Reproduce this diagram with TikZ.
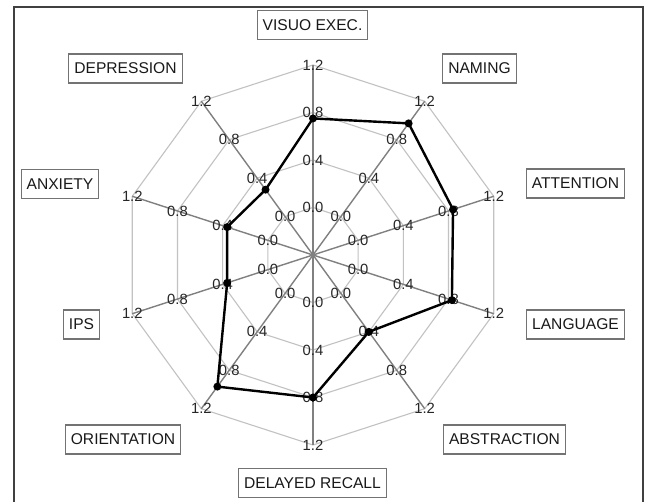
\documentclass[tikz,border=0pt]{standalone}
\usepackage{fontspec}
\setmainfont{Liberation Sans}
\begin{document}
\begin{tikzpicture}[x=1pt,y=1pt,
  lab/.style={draw=black!55, line width=1.2pt, font=\fontsize{15.6}{18}\selectfont,
    text=black!90, inner xsep=5.5pt, inner ysep=0pt, minimum height=29pt},
  tick/.style={font=\fontsize{14.8}{16}\selectfont, text=black!85, inner sep=0pt},
  spoke/.style={draw=black!50, line width=1.4pt},
  ring/.style={draw=black!24, line width=1.1pt, line join=miter},
  dataline/.style={draw=black, line width=2.4pt, line join=round},
  dot/.style={circle, fill=black, inner sep=0pt, minimum size=8pt}]
\useasboundingbox (0,0) rectangle (648,502);
\clip (0,0) rectangle (648,502);
\fill[white] (0,0) rectangle (648,502);
\draw[line width=1.7pt, black!75] (14,495) rectangle (643,-10);

\coordinate (c) at (313,247);
% axis level coordinates
\foreach \k in {0,...,9}{
  \foreach \l/\r in {0/47.5,1/95,2/142.5,3/190}{
    \path (c) ++({90-36*\k}:\r) coordinate (a\k-\l);
  }
}
% rings
\foreach \l in {0,...,3}{
  \draw[ring] (a0-\l) -- (a1-\l) -- (a2-\l) -- (a3-\l) -- (a4-\l) -- (a5-\l)
    -- (a6-\l) -- (a7-\l) -- (a8-\l) -- (a9-\l) -- cycle;
}
% spokes
\foreach \k in {0,...,9}{ \draw[spoke] (c) -- (a\k-3); }
% tick labels
\foreach \k in {0,...,9}{
  \foreach \l/\t in {0/0.0,1/0.4,2/0.8,3/1.2}{
    \node[tick] (t\k-\l) at (a\k-\l) {\t};
  }
}
% data points
\foreach \k/\v in {0/0.75,1/0.97,2/0.84,3/0.83,4/0.40,5/0.80,6/0.97,7/0.36,8/0.36,9/0.28}{
  \path (c) ++({90-36*\k}:{118.75*(\v+0.4)}) coordinate (p\k);
}
\draw[dataline] (p0) -- (p1) -- (p2) -- (p3) -- (p4) -- (p5) -- (p6) -- (p7) -- (p8) -- (p9) -- cycle;
\foreach \k in {0,...,9}{ \node[dot] (d\k) at (p\k) {}; }

% axis titles
\node[lab] (visuo) at (312.5,477) {VISUO EXEC.};
\node[lab] (naming) at (479.5,433.5) {NAMING};
\node[lab] (attention) at (575.5,318.5) {ATTENTION};
\node[lab] (language) at (575.5,177.5) {LANGUAGE};
\node[lab] (abstraction) at (504.5,62.5) {ABSTRACTION};
\node[lab] (delayed) at (312.5,19) {DELAYED RECALL};
\node[lab] (orientation) at (123,62.5) {ORIENTATION};
\node[lab] (ips) at (81.5,177.5) {IPS};
\node[lab] (anxiety) at (60,318) {ANXIETY};
\node[lab] (depression) at (125.5,433.5) {DEPRESSION};
\end{tikzpicture}
\end{document}
